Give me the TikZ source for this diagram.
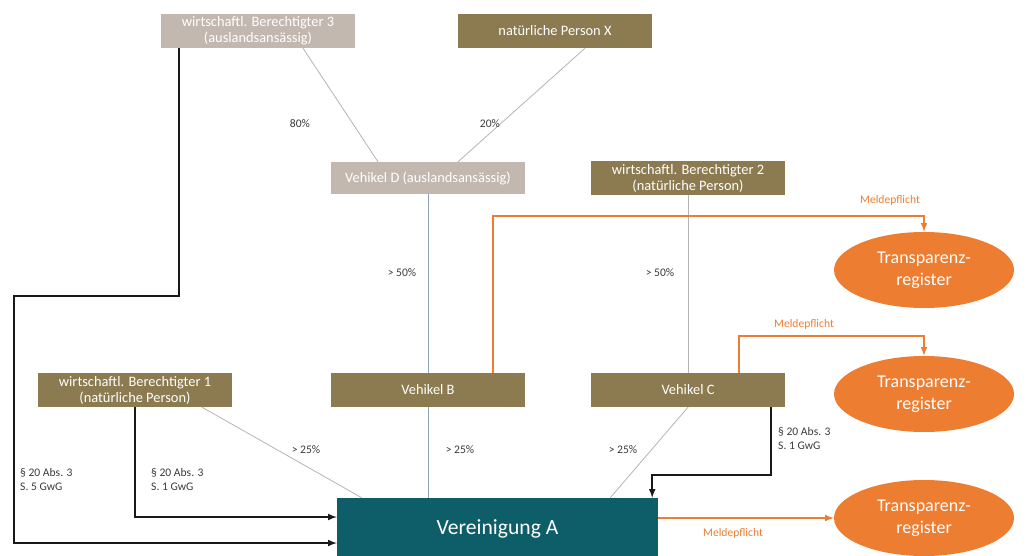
\documentclass[tikz,border=0pt]{standalone}
\usepackage{fontspec}
\setmainfont{Carlito}
\usetikzlibrary{calc,shapes.geometric}
\definecolor{oliv}{HTML}{8C7B50}
\definecolor{taupe}{HTML}{C3B8AF}
\definecolor{orng}{HTML}{ED7D31}
\definecolor{petrol}{HTML}{0E5E6A}
\definecolor{linegray}{HTML}{B4B4B4}
\definecolor{lineblue}{HTML}{8FA2B6}
\definecolor{labelgray}{HTML}{3A3A3A}

\begin{document}
\begin{tikzpicture}[x=1pt,y=-1pt,
    boxstyle/.style={rectangle,inner sep=0pt,text=white,align=center,minimum width=194pt,minimum height=34pt,font=\fontsize{14.4}{16}\selectfont},
    olivebox/.style={boxstyle,fill=oliv},
    taupebox/.style={boxstyle,fill=taupe},
    regstyle/.style={ellipse,fill=orng,text=white,align=center,inner sep=0pt,minimum width=180pt,minimum height=76pt,font=\fontsize{18}{22}\selectfont},
    lbl/.style={text=labelgray,inner sep=0pt,font=\fontsize{11.6}{14}\selectfont},
    meldtext/.style={text=orng,inner sep=0pt,font=\fontsize{11.6}{14}\selectfont},
    share/.style={draw=linegray,line width=0.8pt},
    gwg/.style={draw=black!90,line width=2pt,-latex},
    meldline/.style={draw=orng,line width=2pt,-latex}]
      \useasboundingbox (0,0) rectangle (1027,556);
      \clip (0,0) rectangle (1027,556);
      \node [taupebox] (wb3) at (258,31) {wirtschaftl. Berechtigter 3\\(auslandsansässig)};
      \node [olivebox] (px) at (555,31) {natürliche Person X};
      \node [taupebox,minimum height=32pt] (vd) at (428,178) {Vehikel D (auslandsansässig)};
      \node [olivebox,minimum height=33pt] (wb2) at (688,178) {wirtschaftl. Berechtigter 2\\(natürliche Person)};
      \node [olivebox] (wb1) at (135,390) {wirtschaftl. Berechtigter 1\\(natürliche Person)};
      \node [olivebox] (vb) at (428,390) {Vehikel B};
      \node [olivebox] (vc) at (688,390) {Vehikel C};
      \node [fill=petrol,text=white,inner sep=0pt,minimum width=321pt,minimum height=62pt,font=\fontsize{21.6}{26}\selectfont] (va) at (497.5,529) {Vereinigung A};
      \foreach \y/\n in {270/1,394/2,518/3}
       {\node [regstyle] (reg\n) at (924,\y) {Transparenz-\\register};}
      \coordinate (bend) at (14,296);
      % Beteiligungen
      \draw [share] ($(wb3.south)+(45,0)$) -- ($(vd.north)+(-50,0)$);
      \draw [share] ($(px.south)+(30,0)$) -- ($(vd.north)+(30,0)$);
      \draw [share,draw=lineblue] (vd) -- (vb);
      \draw [share,draw=lineblue] (vb.south) -- (vb.south |- va.north);
      \draw [share] (wb2) -- (vc);
      \draw [share] ($(wb1.south)+(67,0)$) -- ($(va.north west)+(25,0)$);
      \draw [share] (vc.south) -- ($(va.north east)+(-48,0)$);
      \node [lbl] (l80) at (300,124) {80\%};
      \node [lbl] (l20) at (490,124) {20\%};
      \node [lbl] (l50b) at (402,273) {> 50\%};
      \node [lbl] (l50c) at (660,273) {> 50\%};
      \node [lbl] (l25a) at (306,450) {> 25\%};
      \node [lbl] (l25b) at (460,450) {> 25\%};
      \node [lbl] (l25c) at (623,450) {> 25\%};
      % GwG
      \draw [gwg] ($(wb3.south west)+(18,0)$) |- (bend) |- ($(va.west)+(0,14)$);
      \draw [gwg] (wb1.south) |- ($(va.west)+(0,-12)$);
      \draw [gwg] ($(vc.south east)+(-14,0)$) -- ++(0,68) -| ($(va.north east)+(-6,0)$);
      \node [lbl,anchor=west,align=left] (g5) at (20,480) {§ 20 Abs. 3\\S. 5 GwG};
      \node [lbl,anchor=west,align=left] (g1a) at (151,480) {§ 20 Abs. 3\\S. 1 GwG};
      \node [lbl,anchor=west,align=left] (g1b) at (778,439) {§ 20 Abs. 3\\S. 1 GwG};
      % Meldepflicht
      \draw [meldline] ($(vb.north east)+(-32,0)$) |- ($(reg1.north)+(0,-16)$) -- (reg1.north);
      \draw [meldline] ($(vc.north east)+(-46,0)$) |- ($(reg2.north)+(0,-20)$) -- (reg2.north);
      \draw [meldline] ($(va.east)+(0,-11)$) -- (reg3.west);
      \node [meldtext] (m1) at (890,200) {Meldepflicht};
      \node [meldtext] (m2) at (804,324) {Meldepflicht};
      \node [meldtext] (m3) at (733,533) {Meldepflicht};
\end{tikzpicture}
\end{document}
